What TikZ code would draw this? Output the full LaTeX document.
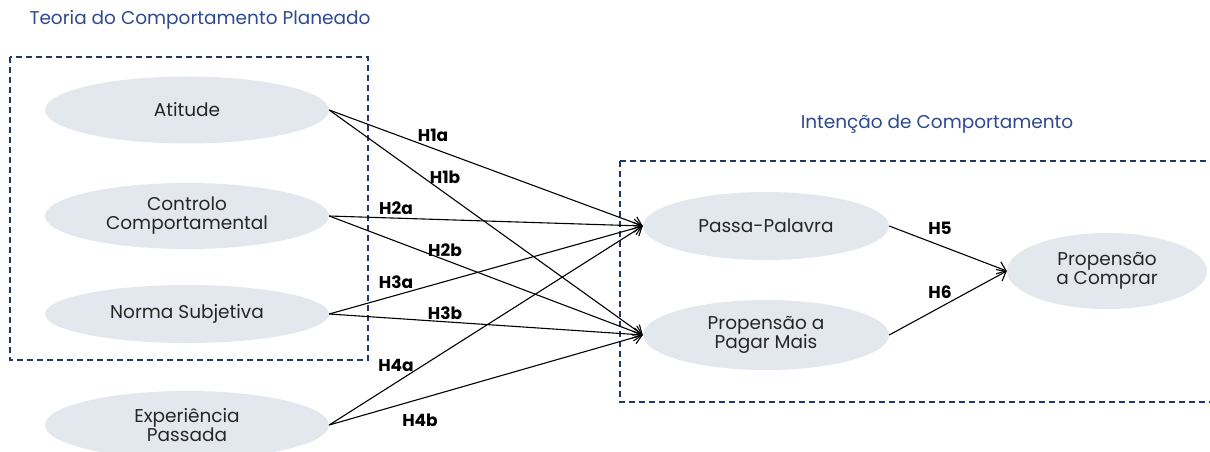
\documentclass[tikz,border=0pt]{standalone}
\usepackage{fontspec}
\setmainfont{Poppins}
\usetikzlibrary{shapes.geometric,arrows.meta}
\definecolor{titleblue}{HTML}{2E4A8C}
\definecolor{boxnavy}{HTML}{1F3864}
\definecolor{ellfill}{HTML}{E3E7EE}
\definecolor{txtgray}{HTML}{262626}
\tikzset{
  oval/.style={ellipse, fill=ellfill, draw=none, inner sep=0pt, align=center, text=txtgray, font=\fontsize{18.5}{19}\selectfont},
  grouptitle/.style={text=titleblue, font=\fontsize{18.5}{19}\selectfont, inner sep=0pt},
  groupbox/.style={draw=boxnavy, line width=1.3pt, dash pattern=on 6pt off 4pt},
  hyp/.style={font=\bfseries\fontsize{17}{18}\selectfont, text=black, inner sep=0pt},
  link/.style={draw=black, line width=1.1pt, -{Straight Barb[length=8pt,width=13pt,line width=1.1pt]}}
}
\begin{document}
\begin{tikzpicture}[x=1pt,y=-1pt]
\useasboundingbox (0,0) rectangle (1210,452);
\fill[white] (0,0) rectangle (1210,452);
% group boxes
\draw[groupbox] (10,57) rectangle (368,360);
\draw[groupbox] (620,161) -- (1220,161) (620,161) -- (620,402) -- (1220,402);
\node[grouptitle] (t1) at (200,20) {Teoria do Comportamento Planeado};
\node[grouptitle] (t2) at (937,124) {Intenção de Comportamento};
% nodes
\node[oval, minimum width=284pt, minimum height=67pt] (att) at (187,110) {Atitude};
\node[oval, minimum width=284pt, minimum height=66pt] (ctl) at (187,216) {Controlo\\Comportamental};
\node[oval, minimum width=284pt, minimum height=58pt] (nor) at (187,314) {Norma Subjetiva};
\node[oval, minimum width=284pt, minimum height=68pt] (exp) at (187,425) {Experiência\\Passada};
\node[oval, minimum width=246pt, minimum height=68pt] (pp) at (766,226) {Passa-Palavra};
\node[oval, minimum width=246pt, minimum height=70pt] (pm) at (766,335) {Propensão a\\Pagar Mais};
\node[oval, minimum width=200pt, minimum height=76pt] (pc) at (1107,271) {Propensão\\a Comprar};
% connectors
\draw[link] (att.east) -- (pp.west);
\draw[link] (att.east) -- (pm.west);
\draw[link] (ctl.east) -- (pp.west);
\draw[link] (ctl.east) -- (pm.west);
\draw[link] (nor.east) -- (pp.west);
\draw[link] (nor.east) -- (pm.west);
\draw[link] (exp.east) -- (pp.west);
\draw[link] (exp.east) -- (pm.west);
\draw[link] (pp.east) -- (pc.west);
\draw[link] (pm.east) -- (pc.west);
% labels
\node[hyp] (h1a) at (433,135) {H1a};
\node[hyp] (h1b) at (445,177) {H1b};
\node[hyp] (h2a) at (396,208) {H2a};
\node[hyp] (h2b) at (445,250) {H2b};
\node[hyp] (h3a) at (396,282) {H3a};
\node[hyp] (h3b) at (445,313) {H3b};
\node[hyp] (h4a) at (396,365) {H4a};
\node[hyp] (h4b) at (420,420) {H4b};
\node[hyp] (h5) at (940,228) {H5};
\node[hyp] (h6) at (940,292) {H6};
\end{tikzpicture}
\end{document}
